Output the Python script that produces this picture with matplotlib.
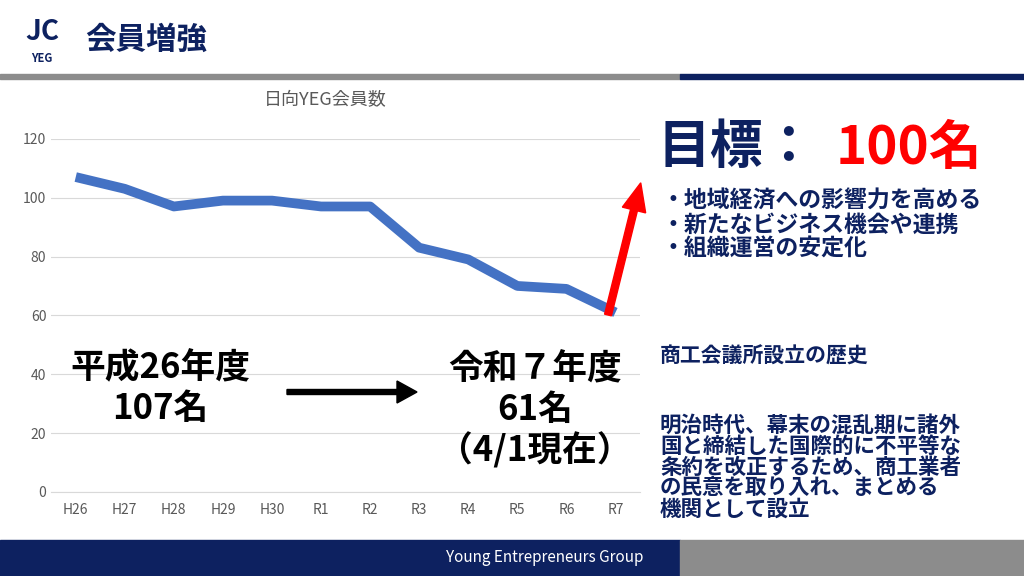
import matplotlib
matplotlib.use("Agg")
import matplotlib.pyplot as plt
from matplotlib.patches import Rectangle, FancyArrow

plt.rcParams["font.family"] = ["Noto Sans CJK JP", "DejaVu Sans"]

categories = ["H26","H27","H28","H29","H30","R1","R2","R3","R4","R5","R6","R7"]
members = [107,103,97,99,99,97,97,83,79,70,69,61]
yticks = [0,20,40,60,80,100,120]

W, H = 1024, 576
fig = plt.figure(figsize=(10.24,5.76), dpi=100)
navy = "#0d2160"
def fx(x): return x/W
def fy(y): return 1-y/H

fig.patches.append(Rectangle((0,fy(79)), fx(680), 5/H, transform=fig.transFigure, color="#8c8c8c"))
fig.patches.append(Rectangle((fx(680),fy(79)), 1-fx(680), 5/H, transform=fig.transFigure, color=navy))
fig.patches.append(Rectangle((0,0), fx(680), 36/H, transform=fig.transFigure, color=navy))
fig.patches.append(Rectangle((fx(680),0), 1-fx(680), 36/H, transform=fig.transFigure, color="#8c8c8c"))
fig.text(fx(545), fy(557), "Young Entrepreneurs Group", color="white", fontsize=11, ha="center", va="center")
fig.text(fx(85), fy(40), "会員増強", color=navy, fontsize=22, fontweight="bold", va="center")
fig.text(fx(42), fy(32), "JC", color=navy, fontsize=20, fontweight="bold", style="italic", ha="center", va="center")
fig.text(fx(42), fy(58), "YEG", color=navy, fontsize=8, fontweight="bold", ha="center", va="center")

ax = fig.add_axes([0.050, 0.146, 0.575, 0.613])
ax.plot(range(len(categories)), members, color="#4472c4", lw=7, solid_capstyle="butt")
ax.set_xlim(-0.5, len(categories)-0.5)
ax.set_ylim(0,120)
ax.set_yticks(yticks)
ax.set_xticks(range(len(categories)))
ax.set_xticklabels(categories)
ax.tick_params(colors="#595959", labelsize=10, length=0)
ax.tick_params(axis="x", pad=8)
ax.grid(axis="y", color="#d9d9d9", lw=0.8)
ax.set_axisbelow(True)
for s in ax.spines.values(): s.set_visible(False)
ax.spines["bottom"].set_visible(True); ax.spines["bottom"].set_color("#d9d9d9")
fig.text(fx(325), fy(100), "日向YEG会員数", color="#595959", fontsize=13, ha="center", va="center")

fig.text(fx(160), fy(388), "平成26年度\n107名", fontsize=25, fontweight="bold", ha="center", va="center", linespacing=1.2)
fig.text(fx(535), fy(410), "令和７年度\n61名\n（4/1現在）", fontsize=25, fontweight="bold", ha="center", va="center", linespacing=1.2)
fig.patches.append(FancyArrow(fx(287), fy(392), fx(110), 0, width=5/H, head_width=22/H, head_length=fx(20),
                              transform=fig.transFigure, color="black", length_includes_head=False))
ax2 = fig.add_axes([0,0,1,1], facecolor="none"); ax2.set_xlim(0,W); ax2.set_ylim(H,0); ax2.axis("off")
ax2.add_patch(FancyArrow(608, 315, 26, -105, width=7, head_width=24, head_length=28, color="red", length_includes_head=False))

fig.text(fx(658), fy(148), "目標：", color=navy, fontsize=38, fontweight="bold", va="center")
fig.text(fx(836), fy(148), "100名", color="#ff0000", fontsize=38, fontweight="bold", va="center")
fig.text(fx(662), fy(225), "・地域経済への影響力を高める\n・新たなビジネス機会や連携\n・組織運営の安定化",
         color=navy, fontsize=16.5, fontweight="bold", va="center", linespacing=1.05)
fig.text(fx(660), fy(356), "商工会議所設立の歴史", color=navy, fontsize=15, fontweight="bold", va="center")
fig.text(fx(660), fy(467), "明治時代、幕末の混乱期に諸外\n国と締結した国際的に不平等な\n条約を改正するため、商工業者\nの民意を取り入れ、まとめる\n機関として設立",
         color=navy, fontsize=15.5, fontweight="bold", va="center", linespacing=1.0)

fig.savefig("out.png", dpi=100)
